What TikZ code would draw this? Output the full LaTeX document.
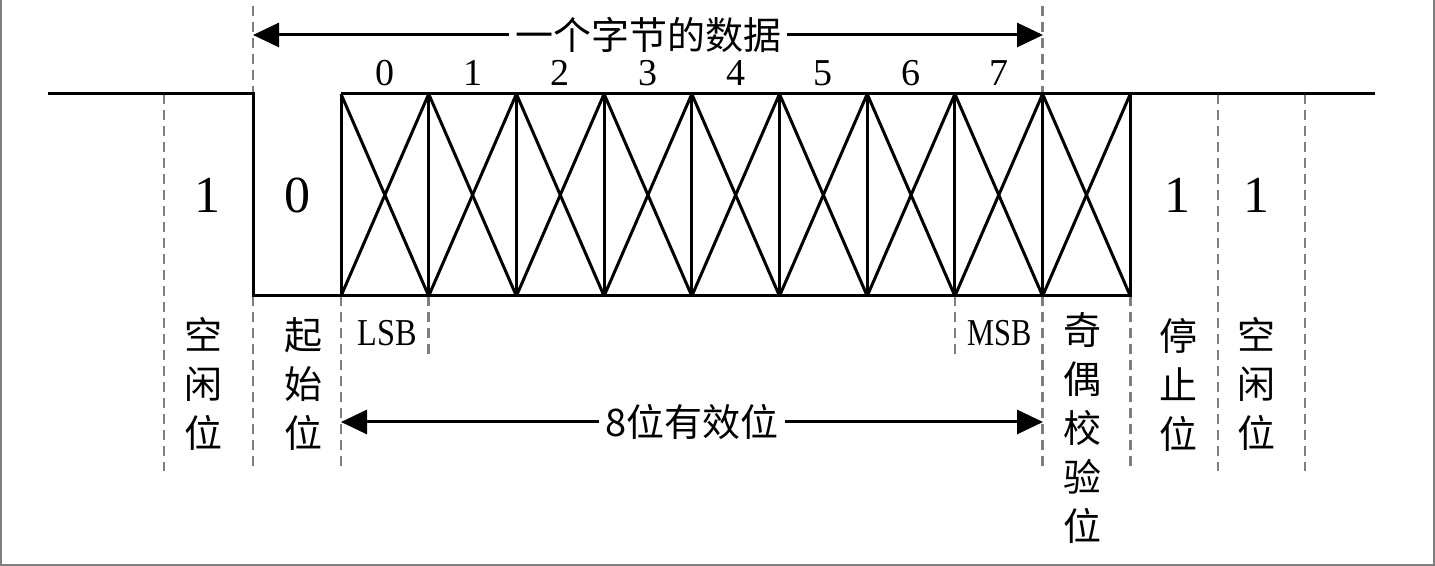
\documentclass[tikz,border=0pt]{standalone}
\usepackage{fontspec}
\setmainfont{Liberation Serif}
\newfontfamily\cjk{Noto Sans CJK SC}
\usetikzlibrary{arrows.meta,positioning,calc}
\definecolor{uartgray}{HTML}{7F7F7F}
\definecolor{uartframe}{HTML}{808080}

\tikzset{
  sigline/.style={black,line width=1.5pt,line join=miter},
  guide/.style={uartgray,line width=1.4pt,dash pattern=on 5pt off 3pt},
  span/.style={black,line width=1.5pt,
    {Triangle[length=13pt,width=12pt]}-{Triangle[length=13pt,width=12pt]}},
  zh/.style={font=\cjk\fontsize{19}{24.5}\selectfont,align=center,inner sep=0pt},
  bitnum/.style={font=\fontsize{19}{22}\selectfont,inner sep=0pt},
  level/.style={font=\fontsize{26}{30}\selectfont,inner sep=0pt},
  edgetag/.style={font=\fontsize{19}{22}\selectfont,inner sep=0pt}
}

\begin{document}
\begin{tikzpicture}[x=0.5pt,y=-0.5pt]
  \useasboundingbox (0,0) rectangle (1435,566);

  % ---- Frame (left, bottom, right) ---------------------------
  \draw[uartframe,line width=0.6pt] (1,0) -- (1,565) -- (1434,565) -- (1434,0);

  % ---- Cell edges --------------------------------------------
  \foreach \i in {0,...,9} {
    \coordinate (t\i) at ({341+87.7*\i},94);
    \coordinate (b\i) at ({341+87.7*\i},296);
  }
  \coordinate (idleL) at (48,94);
  \coordinate (fallT) at (253,94);
  \coordinate (fallB) at (253,296);
  \coordinate (idleR) at (1375,94);

  % ---- Guide lines (dashed) ----------------------------------
  \draw[guide] (164,94) -- (164,471);
  \draw[guide] (253,6) -- (fallT);
  \draw[guide] (fallB) -- (253,471);
  \draw[guide] (b0) -- ++(0,175);
  \draw[guide] (b1) -- ++(0,59);
  \draw[guide] (b7) -- ++(0,59);
  \draw[guide] ($(t8)+(0,-88)$) -- (t8);
  \draw[guide] (b8) -- ++(0,175);
  \draw[guide] (b9) -- ++(0,171);
  \draw[guide] (1218,94) -- (1218,471);
  \draw[guide] (1305,94) -- (1305,471);

  % ---- Waveform ----------------------------------------------
  \draw[sigline] (idleL) -- (fallT) -- (fallB) -- (b9) -- (t9);
  \draw[sigline] (t0) -- (idleR);
  \foreach \i [evaluate=\i as \j using int(\i+1)] in {0,...,8} {
    \draw[sigline] (t\i) -- (b\i);
    \draw[sigline] (t\i) -- (b\j);
    \draw[sigline] (b\i) -- (t\j);
  }

  % Bit numbers
  \foreach \i [evaluate=\i as \j using int(\i+1)] in {0,...,7}
    \node[bitnum] (n\i) at ($(t\i)!0.5!(t\j)+(0,-21)$) {\i};

  % Line levels
  \node[level] (lvlIdle)  at (207,195)  {1};
  \node[level] (lvlStart) at (297,195)  {0};
  \node[level] (lvlStop)  at (1177,195) {1};
  \node[level] (lvlIdle2) at (1256,195) {1};

  % ---- Field names -------------------------------------------
  \node[zh] (idleA)  at (203,384)  {空\\闲\\位};
  \node[zh] (start)  at (303,384)  {起\\始\\位};
  \node[edgetag] (lsb) at (387,333) {\scalebox{0.85}[1]{LSB}};
  \node[edgetag] (msb) at (1000,333) {\scalebox{0.8}[1]{MSB}};
  \node[zh] (parity) at (1082,428) {奇\\偶\\校\\验\\位};
  \node[zh] (stop)   at (1178,385) {停\\止\\位};
  \node[zh] (idleB)  at (1256,384) {空\\闲\\位};

  % ---- Spans -------------------------------------------------
  \coordinate (byteL) at (253,35);
  \coordinate (byteR) at (1043,35);
  \draw[span] (byteL) -- (byteR)
    node[midway,zh,fill=white,inner xsep=3pt] (byte) {一个字节的数据};
  \coordinate (dataL) at (341,422);
  \coordinate (dataR) at (1043,422);
  \draw[span] (dataL) -- (dataR)
    node[midway,zh,fill=white,inner xsep=3pt] (data) {8位有效位};

\end{tikzpicture}
\end{document}
